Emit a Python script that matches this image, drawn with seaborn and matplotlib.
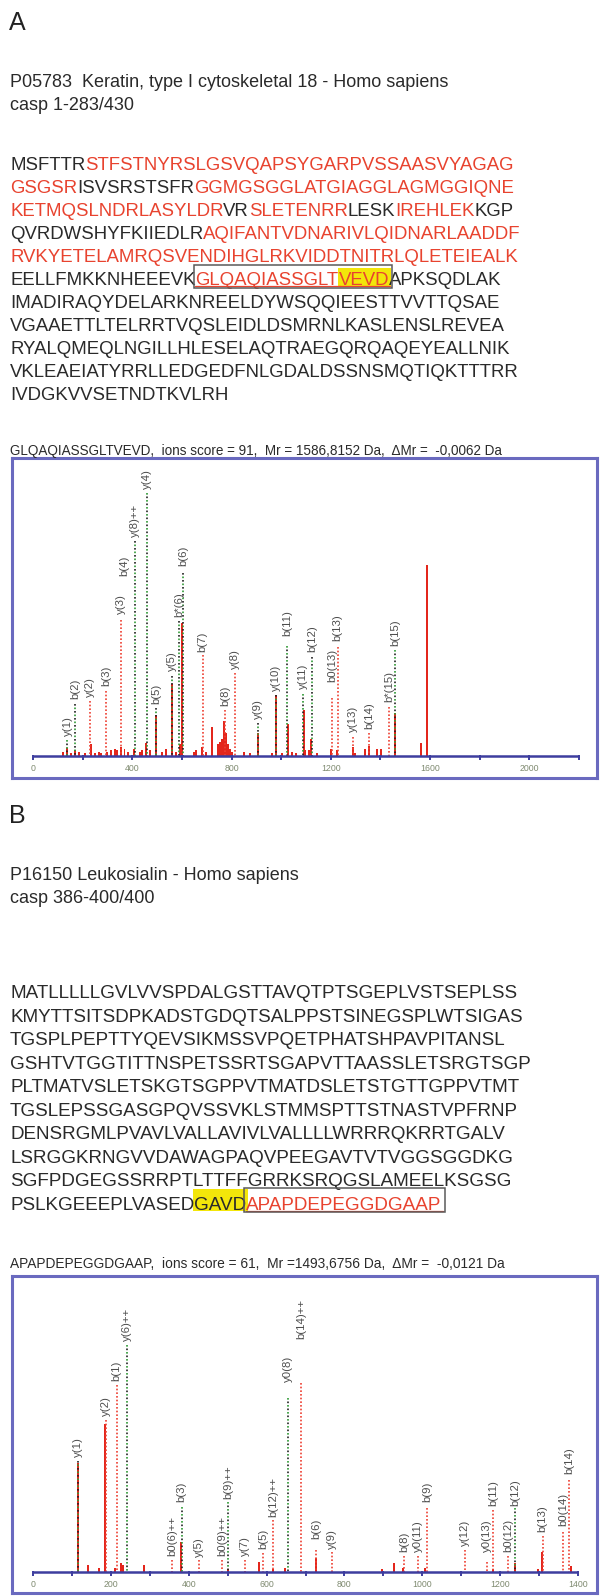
import matplotlib
matplotlib.use("Agg")
import matplotlib.pyplot as plt
import seaborn as sns
import pandas as pd
from matplotlib.patches import Rectangle
from matplotlib.lines import Line2D

# ---------------- data ----------------
TITLE_A = "P05783  Keratin, type I cytoskeletal 18 - Homo sapiens"
CASP_A = "casp 1-283/430"
SEQ_A = [
    [("MSFTTR", "k"), ("STFSTNYRSLGSVQAPSYGARPVSSAASVYAGAG", "r")],
    [("GSGSR", "r"), ("ISVSRSTSFR", "k"), ("GGMGSGGLATGIAGGLAGMGGIQNE", "r")],
    [("KETMQSLNDRLASYLDR", "r"), ("VR", "k"), ("SLETENRR", "r"), ("LESK", "k"), ("IREHLEK", "r"), ("KGP", "k")],
    [("QVRDWSHYFKIIEDLR", "k"), ("AQIFANTVDNARIVLQIDNARLAADDF", "r")],
    [("RVKYETELAMRQSVENDIHGLRKVIDDTNITRLQLETEIEALK", "r")],
    [("EELLFMKKNHEEEVK", "k"), ("GLQAQIASSGLT", "rub"), ("VEVD", "rubh"), ("APKSQDLAK", "k")],
    [("IMADIRAQYDELARKNREELDYWSQQIEESTTVVTTQSAE", "k")],
    [("VGAAETTLTELRRTVQSLEIDLDSMRNLKASLENSLREVEA", "k")],
    [("RYALQMEQLNGILLHLESELAQTRAEGQRQAQEYEALLNIK", "k")],
    [("VKLEAEIATYRRLLEDGEDFNLGDALDSSNSMQTIQKTTTRR", "k")],
    [("IVDGKVVSETNDTKVLRH", "k")],
]
HEADER_A = "GLQAQIASSGLTVEVD,  ions score = 91,  Mr = 1586,8152 Da,  \u0394Mr =  -0,0062 Da"

A_peak_mz = [139, 171, 230, 355, 411, 459, 496, 559, 590, 604, 683, 724, 760, 769, 776, 782,
             907, 979, 1025, 1087, 1110, 1125, 1205, 1228, 1288, 1340, 1354, 1383, 1405, 1459,
             1565, 1588,
             120, 150, 185, 205, 250, 262, 275, 300, 315, 330, 340, 372, 385, 430, 440, 475,
             520, 540, 575, 650, 660, 700, 745, 752, 790, 800, 850, 870, 960, 1000, 1040,
             1060, 1100, 1150, 1300]
A_peak_int = [2.8, 2, 4, 3, 2.5, 4.5, 14, 25, 4, 46, 3, 10, 6, 12, 8, 4,
              8, 21, 11, 16, 2, 6, 2.5, 2, 3, 2.5, 3.5, 2.5, 2.5, 15,
              4.5, 66,
              1.5, 1, 1.5, 1, 1.2, 1.5, 1, 1.5, 2, 2.5, 2, 2.5, 1.5, 1.5, 2, 2,
              1.5, 2.5, 1.5, 1.5, 2, 1.5, 4, 5, 2.5, 1.5, 1.5, 1, 1, 1.2, 1.5,
              1, 2, 1, 1.2]

A_ann_mz = [139, 171, 230, 296, 355, 367, 411, 459, 496, 559, 588, 604, 683, 774, 814,
            907, 979, 1025, 1087, 1125, 1205, 1228, 1288, 1354, 1434, 1459]
A_ann_label = ["y(1)", "b(2)", "y(2)", "b(3)", "y(3)", "b(4)", "y(8)++", "y(4)", "b(5)", "y(5)",
               "b*(6)", "b(6)", "b(7)", "b(8)", "y(8)", "y(9)", "y(10)", "b(11)", "y(11)", "b(12)",
               "b0(13)", "b(13)", "y(13)", "b(14)", "b*(15)", "b(15)"]
A_ann_text_h = [6.6, 19.3, 20, 23.8, 48.6, 61.7, 75.2, 91.7, 17.6, 29, 47.6, 65, 35.5, 17, 29.7,
                12.4, 22, 41, 22.8, 35.5, 25, 39.3, 8, 9, 18.3, 37.6]
A_ann_line_h = [5.5, 18, 19, 22.5, 47, 0, 74, 90.7, 16.5, 27.6, 46.5, 63, 35, 16, 28.5,
                11.5, 21, 38, 21.5, 34, 20, 37.6, 6.5, 8, 17, 36.5]
A_ann_kind = ["g", "k", "r", "r", "r", "k", "k", "g", "k", "k", "k", "k", "r", "r", "r",
              "k", "k", "g", "g", "k", "r", "r", "r", "r", "r", "g"]
A_ticks = list(range(0, 2201, 200))
A_ticklabels = ["0", "400", "800", "1200", "1600", "2000"]

TITLE_B = "P16150 Leukosialin - Homo sapiens"
CASP_B = "casp 386-400/400"
SEQ_B = [
    [("MATLLLLLGVLVVSPDALGSTTAVQTPTSGEPLVSTSEPLSS", "k")],
    [("KMYTTSITSDPKADSTGDQTSALPPSTSINEGSPLWTSIGAS", "k")],
    [("TGSPLPEPTTYQEVSIKMSSVPQETPHATSHPAVPITANSL", "k")],
    [("GSHTVTGGTITTNSPETSSRTSGAPVTTAASSLETSRGTSGP", "k")],
    [("PLTMATVSLETSKGTSGPPVTMATDSLETSTGTTGPPVTMT", "k")],
    [("TGSLEPSSGASGPQVSSVKLSTMMSPTTSTNASTVPFRNP", "k")],
    [("DENSRGMLPVAVLVALLAVIVLVALLLLWRRRQKRRTGALV", "k")],
    [("LSRGGKRNGVVDAWAGPAQVPEEGAVTVTVGGSGGDKG", "k")],
    [("SGFPDGEGSSRRPTLTTFFGRRKSRQGSLAMEELKSGSG", "k")],
    [("PSLKGEEEPLVASED", "k"), ("GAVD", "kh"), ("APAPDEPEGGDGAAP", "rub")],
]
HEADER_B = "APAPDEPEGGDGAAP,  ions score = 61,  Mr =1493,6756 Da,  \u0394Mr =  -0,0121 Da"

B_peak_mz = [116, 142, 168, 187, 211, 224, 229, 288, 382, 502, 583, 617, 647, 727, 898,
             928, 954, 1007, 1182, 1238, 1298, 1309, 1381]
B_peak_int = [37.5, 2.4, 1.4, 51, 1.5, 3, 2.4, 2.4, 10.5, 1, 3.5, 1, 1.5, 5, 1,
              3, 1.5, 1.5, 1, 3, 1, 7, 2]

B_ann_mz = [116, 187, 215, 241, 357, 382, 426, 486, 502, 545, 591, 617, 656, 688, 727, 767,
            954, 989, 1012, 1110, 1166, 1182, 1221, 1238, 1309, 1362, 1378]
B_ann_label = ["y(1)", "y(2)", "b(1)", "y(6)++", "b0(6)++", "b(3)", "y(5)", "b0(9)++", "b(9)++",
               "y(7)", "b(5)", "b(12)++", "y0(8)", "b(14)++", "b(6)", "y(9)", "b(8)", "y0(11)",
               "b(9)", "y(12)", "y0(13)", "b(11)", "b0(12)", "b(12)", "b(13)", "b0(14)", "b(14)"]
B_ann_text_h = [39.3, 53.4, 65.5, 79.3, 5.2, 23.8, 4.8, 5.2, 24.8, 5.2, 7.6, 18.6, 65.2, 80,
                11, 7.6, 6.6, 6.6, 23.8, 8.6, 6.6, 22.4, 6.6, 22.4, 13.4, 15.5, 33.4]
B_ann_line_h = [38.3, 52.4, 64.5, 78.3, 4, 22.4, 4, 4, 24.1, 4, 6.5, 17.9, 60, 65.2,
                7.6, 6.9, 5.5, 5.5, 22, 7.6, 3.4, 21.4, 5.5, 22, 12.4, 13.8, 31.7]
B_ann_kind = ["k", "r", "r", "g", "r", "g", "r", "r", "g", "r", "r", "r", "g", "r",
              "r", "r", "r", "r", "r", "r", "r", "r", "r", "g", "r", "r", "r"]
B_ticks = list(range(0, 1401, 100))
B_ticklabels = ["0", "200", "400", "600", "800", "1000", "1200", "1400"]

# ---------------- style ----------------
sns.set_theme(style="white")
plt.rcParams["font.family"] = ["Liberation Sans", "DejaVu Sans"]

DARK = "#2a2a2a"
RED_TXT = "#e8432f"
RED = "#e3261c"
RED_D = "#ee4032"
GREEN = "#2f9a35"
BLACK = "#222222"
YELLOW = "#f3e60a"
FRAME = "#6a6abf"
AXISC = "#3d3d9e"

W, H = 600, 1596
fig = plt.figure(figsize=(W / 100, H / 100), dpi=100)
fig.patch.set_facecolor("white")
R = fig.canvas.get_renderer()


def fx(x):
    return x / W


def fy(y):
    return 1 - y / H


def tw(s, size):
    t = fig.text(0, 0, s, fontsize=size)
    w = t.get_window_extent(R).width
    t.remove()
    return w


def put(x, base, s, size, color=DARK, **kw):
    fig.text(fx(x), fy(base), s, fontsize=size, color=color, ha="left", va="baseline",
             zorder=3, **kw)


def fit(s, target, ref=12.0):
    return ref * target / tw(s, ref)


def draw_sequence(rows, x0, base0, step, size, box_top, hl_top):
    for i, row in enumerate(rows):
        full = "".join(t for t, _ in row)
        b = base0 + i * step
        pos = 0
        box = []
        for txt, st in row:
            if pos == 0:
                xs = x0
            else:
                xs = x0 + tw(full[:pos + 1], size) - tw(full[pos], size)
            xe = x0 + tw(full[:pos + len(txt)], size)
            col = RED_TXT if "r" in st else DARK
            if "h" in st:
                fig.add_artist(Rectangle((fx(xs - 1), fy(b + 1)), (xe - xs + 2.5) / W,
                                         (hl_top + 1) / H, transform=fig.transFigure,
                                         facecolor=YELLOW, edgecolor="none", zorder=1))
            put(xs, b, txt, size, color=col)
            if "u" in st:
                fig.add_artist(Line2D([fx(xs), fx(xe + 1)], [fy(b + 1.3), fy(b + 1.3)],
                                      transform=fig.transFigure, color=RED_TXT, lw=0.9,
                                      zorder=3))
            if "b" in st:
                box.append((xs, xe))
            pos += len(txt)
        if box:
            bx0 = box[0][0] - 2
            bx1 = box[-1][1] + 3
            fig.add_artist(Rectangle((fx(bx0), fy(b + 2.5)), (bx1 - bx0) / W,
                                     (box_top + 2.5) / H, transform=fig.transFigure,
                                     facecolor="none", edgecolor="#5a5a5a", lw=1.1, zorder=4))


def dotted(ax, x, top, kind):
    if top <= 0:
        return
    if kind == "r":
        ax.plot([x, x], [top, 0], color=RED_D, lw=1.2, ls=(0, (1, 1.2)), zorder=3)
    else:
        c1, c2 = (GREEN, BLACK) if kind == "g" else (BLACK, GREEN)
        ax.plot([x, x], [top, 0], color=c1, lw=1.2, ls=(0, (1, 3.2)), zorder=3)
        ax.plot([x, x], [top, 0], color=c2, lw=1.2, ls=(2.1, (1, 3.2)), zorder=3)


def spectrum(box, k, zero_px, base_px, xmax, peaks_mz, peaks_int, binw,
             ann_mz, ann_lab, ann_th, ann_lh, ann_kind, ticks, ticklabels, tickstep):
    left, top, right, bottom = box
    pxu = 2.9
    ax = fig.add_axes([fx(left), fy(bottom), (right - left) / W, (bottom - top) / H])
    df = pd.DataFrame({"mz": peaks_mz, "intensity": peaks_int})
    sns.histplot(data=df, x="mz", weights="intensity", binwidth=binw,
                 binrange=(-binw / 2, xmax + 40), color=RED, alpha=1, linewidth=0,
                 ax=ax, zorder=2)
    ax.set_xlim((left - zero_px) / k, (right - zero_px) / k)
    ax.set_ylim(-(bottom - base_px) / pxu, (base_px - top) / pxu)
    ax.set_xlabel("")
    ax.set_ylabel("")
    ax.set_xticks([])
    ax.set_yticks([])
    for s in ax.spines.values():
        s.set_color(FRAME)
        s.set_linewidth(2.2)
    ax.plot([0, xmax], [0, 0], color=AXISC, lw=1.8, zorder=4, solid_capstyle="butt")
    ax.vlines(ticks, -1.4, 0.3, color=AXISC, lw=1.4, zorder=4)
    for i, lab in enumerate(ticklabels):
        ax.text(i * tickstep, -4.4, lab, ha="center", va="center", fontsize=6.3,
                color="#7f8a70")
    for m, lab, th, lh, kd in zip(ann_mz, ann_lab, ann_th, ann_lh, ann_kind):
        dotted(ax, m, lh, kd)
        ax.text(m, th + 0.4, lab, rotation=90, ha="center", va="bottom", fontsize=8.2,
                color="#4d4d4d", zorder=5)
    return ax


# ---------------- panel A ----------------
fig.text(fx(9), fy(30), "A", fontsize=18, color="#222222", ha="left", va="baseline")
title_size = fit(TITLE_A, 440)
put(10, 87, TITLE_A, title_size)
put(10, 110, CASP_A, title_size)

seq_size_A = fit("".join(t for t, _ in SEQ_A[0]), 503)
draw_sequence(SEQ_A, 10, 170, 23.0, seq_size_A, box_top=19.5, hl_top=17)

hdr_size = fit(HEADER_A, 493)
put(10, 455, HEADER_A, hdr_size)

spectrum((12, 458, 597, 778), 546 / 2200, 33, 756, 2200, A_peak_mz, A_peak_int, 8,
         A_ann_mz, A_ann_label, A_ann_text_h, A_ann_line_h, A_ann_kind,
         A_ticks, A_ticklabels, 400)

# ---------------- panel B ----------------
fig.text(fx(9), fy(823), "B", fontsize=18, color="#222222", ha="left", va="baseline")
put(10, 880, TITLE_B, title_size)
put(10, 903, CASP_B, title_size)

seq_size_B = fit("".join(t for t, _ in SEQ_B[0]), 507)
draw_sequence(SEQ_B, 10, 998, 23.55, seq_size_B, box_top=22, hl_top=21)

put(10, 1268, HEADER_B, fit(HEADER_B, 493))

spectrum((12, 1276, 597, 1593), 545 / 1400, 33, 1572, 1400, B_peak_mz, B_peak_int, 5,
         B_ann_mz, B_ann_label, B_ann_text_h, B_ann_line_h, B_ann_kind,
         B_ticks, B_ticklabels, 200)

fig.savefig("out.png", dpi=100, facecolor="white")
